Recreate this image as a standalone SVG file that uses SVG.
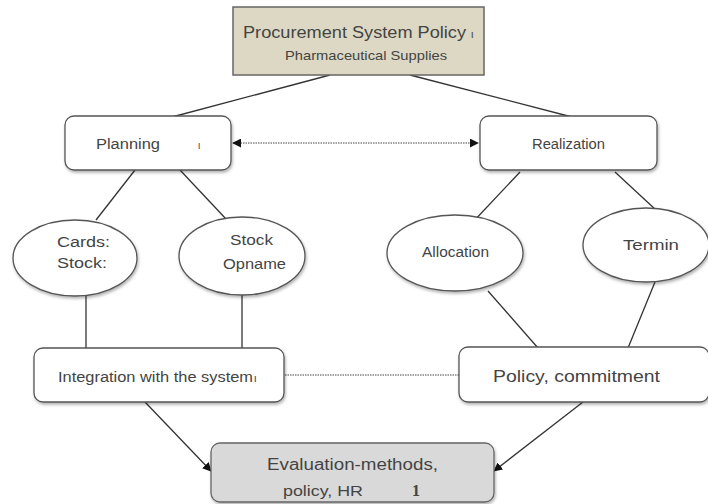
<svg xmlns="http://www.w3.org/2000/svg" width="708" height="504" viewBox="0 0 708 504">
<style>
.box{fill:#fff;stroke:#555;stroke-width:1.3;filter:url(#sh)}
.ell{fill:#fff;stroke:#555;stroke-width:1.3;filter:url(#sh)}
.ln{stroke:#333;stroke-width:1.3;fill:none}
.dot{stroke:#444;stroke-width:1.2;stroke-dasharray:1.5 1;fill:none}
text{font-family:"Liberation Sans",Arial,sans-serif;fill:#444}
</style>
<defs>
<filter id="sh" x="-10%" y="-10%" width="125%" height="135%">
<feDropShadow dx="1" dy="2" stdDeviation="1.5" flood-color="#000" flood-opacity="0.3"/>
</filter>
<marker id="ah" viewBox="0 0 10 10" refX="9" refY="5" markerWidth="9" markerHeight="9" orient="auto-start-reverse" markerUnits="userSpaceOnUse">
<path d="M0,0 L10,5 L0,10 z" fill="#111"/>
</marker>
</defs>
<g id="connectors">
<line class="ln" x1="330" y1="75" x2="172" y2="117"/>
<line class="ln" x1="410" y1="75" x2="572" y2="117"/>
<line class="dot" x1="233" y1="143" x2="478" y2="143" marker-start="url(#ah)" marker-end="url(#ah)"/>
<line class="ln" x1="135" y1="170" x2="96" y2="220"/>
<line class="ln" x1="180" y1="170" x2="226" y2="219"/>
<line class="ln" x1="520" y1="172" x2="472" y2="223"/>
<line class="ln" x1="615" y1="172" x2="656" y2="210"/>
<line class="ln" x1="86" y1="296" x2="86" y2="348"/>
<line class="ln" x1="242" y1="295" x2="242" y2="348"/>
<line class="ln" x1="488" y1="291" x2="538" y2="348"/>
<line class="ln" x1="655" y1="282" x2="628" y2="348"/>
<line class="dot" x1="285" y1="375" x2="460" y2="375"/>
<line class="ln" x1="145" y1="402" x2="211" y2="471" marker-end="url(#ah)"/>
<line class="ln" x1="583" y1="402" x2="494" y2="471" marker-end="url(#ah)"/>
</g>
<g id="top">
<rect x="233" y="7" width="251" height="68" fill="#dcd8c3" stroke="#666" stroke-width="1.5"/>
<text x="243" y="38" font-size="16" textLength="223" lengthAdjust="spacingAndGlyphs">Procurement System Policy</text>
<text x="471" y="38" font-size="11">ι</text>
<text x="285" y="60" font-size="13" textLength="162" lengthAdjust="spacingAndGlyphs">Pharmaceutical Supplies</text>
</g>
<g id="planning">
<rect class="box" x="65" y="116" width="166" height="54" rx="9"/>
<text x="96" y="149" font-size="14" textLength="64" lengthAdjust="spacingAndGlyphs">Planning</text>
<text x="198" y="149" font-size="10">ι</text>
</g>
<g id="realization">
<rect class="box" x="480" y="116" width="177" height="54" rx="9"/>
<text x="532" y="149" font-size="14" textLength="73" lengthAdjust="spacingAndGlyphs">Realization</text>
</g>
<g id="cards">
<ellipse class="ell" cx="75" cy="258" rx="62" ry="38"/>
<text x="57" y="247" font-size="14" textLength="53" lengthAdjust="spacingAndGlyphs">Cards:</text>
<text x="57" y="268" font-size="14" textLength="50" lengthAdjust="spacingAndGlyphs">Stock:</text>
</g>
<g id="opname">
<ellipse class="ell" cx="242" cy="256" rx="63" ry="39"/>
<text x="230" y="245" font-size="14" textLength="43" lengthAdjust="spacingAndGlyphs">Stock</text>
<text x="223" y="269" font-size="15" textLength="63" lengthAdjust="spacingAndGlyphs">Opname</text>
</g>
<g id="allocation">
<ellipse class="ell" cx="455" cy="253" rx="68" ry="38"/>
<text x="422" y="257" font-size="14" textLength="67" lengthAdjust="spacingAndGlyphs">Allocation</text>
</g>
<g id="termin">
<ellipse class="ell" cx="646" cy="245" rx="63" ry="37"/>
<text x="623" y="250" font-size="14" textLength="56" lengthAdjust="spacingAndGlyphs">Termin</text>
</g>
<g id="integration">
<rect class="box" x="34" y="348" width="250" height="54" rx="9"/>
<text x="58" y="382" font-size="14" textLength="195" lengthAdjust="spacingAndGlyphs">Integration with the system</text>
<text x="254" y="382" font-size="11">ι</text>
</g>
<g id="policy">
<rect class="box" x="459" y="347" width="250" height="55" rx="9"/>
<text x="493" y="382" font-size="17" textLength="167" lengthAdjust="spacingAndGlyphs">Policy, commitment</text>
</g>
<g id="eval">
<rect x="211" y="443" width="283" height="59" rx="9" fill="#d9d9d9" stroke="#666" stroke-width="1.3" filter="url(#sh)"/>
<text x="267" y="470" font-size="16" textLength="171" lengthAdjust="spacingAndGlyphs">Evaluation-methods,</text>
<text x="283" y="496" font-size="14" textLength="80" lengthAdjust="spacingAndGlyphs">policy, HR</text>
<text x="412" y="496" font-size="16" font-weight="bold" style="font-family:'Liberation Serif',serif">1</text>
</g>
</svg>
